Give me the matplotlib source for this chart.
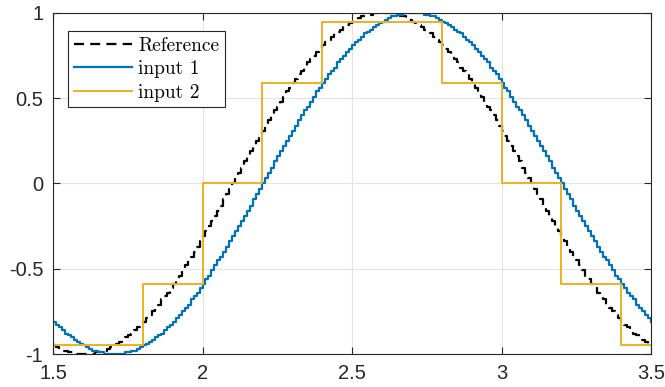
import matplotlib
matplotlib.use("Agg")
import matplotlib.pyplot as plt
import numpy as np

# sample times (0.01 s grid)
t = np.round(np.arange(1.5, 3.5001, 0.01), 2)

reference = [
    -.95, -.96, -.97, -.98, -.98, -.99, -.99, -1.0, -1.0, -1.0,
    -1.0, -1.0, -1.0, -1.0, -.99, -.99, -.98, -.98, -.97, -.96,
    -.95, -.94, -.93, -.92, -.90, -.89, -.88, -.86, -.84, -.83,
    -.81, -.79, -.77, -.75, -.73, -.71, -.68, -.66, -.64, -.61,
    -.59, -.56, -.54, -.51, -.48, -.45, -.43, -.40, -.37, -.34,
    -.31, -.28, -.25, -.22, -.19, -.16, -.13, -.09, -.06, -.03,
    0.0,
    .03, .06, .09, .13, .16, .19, .22, .25, .28, .31,
    .34, .37, .40, .43, .45, .48, .51, .54, .56, .59,
    .61, .64, .66, .68, .71, .73, .75, .77, .79, .81,
    .83, .84, .86, .88, .89, .90, .92, .93, .94, .95,
    .96, .97, .98, .98, .99, .99, 1.0, 1.0, 1.0, 1.0,
    1.0, 1.0, 1.0, .99, .99, .98, .98, .97, .96, .95,
    .94, .93, .92, .90, .89, .88, .86, .84, .83, .81,
    .79, .77, .75, .73, .71, .68, .66, .64, .61, .59,
    .56, .54, .51, .48, .45, .43, .40, .37, .34, .31,
    .28, .25, .22, .19, .16, .13, .09, .06, .03, 0.0,
    -.03, -.06, -.09, -.13, -.16, -.19, -.22, -.25, -.28, -.31,
    -.34, -.37, -.40, -.43, -.45, -.48, -.51, -.54, -.56, -.59,
    -.61, -.64, -.66, -.68, -.71, -.73, -.75, -.77, -.79, -.81,
    -.83, -.84, -.86, -.88, -.89, -.90, -.92, -.93, -.94, -.95,
]

input1 = [
    -.81, -.83, -.84, -.86, -.88, -.89, -.90, -.92, -.93, -.94,
    -.95, -.96, -.97, -.98, -.98, -.99, -.99, -1.0, -1.0, -1.0,
    -1.0, -1.0, -1.0, -1.0, -.99, -.99, -.98, -.98, -.97, -.96,
    -.95, -.94, -.93, -.92, -.90, -.89, -.88, -.86, -.84, -.83,
    -.81, -.79, -.77, -.75, -.73, -.71, -.68, -.66, -.64, -.61,
    -.59, -.56, -.54, -.51, -.48, -.45, -.43, -.40, -.37, -.34,
    -.31, -.28, -.25, -.22, -.19, -.16, -.13, -.09, -.06, -.03,
    0.0,
    .03, .06, .09, .13, .16, .19, .22, .25, .28, .31,
    .34, .37, .40, .43, .45, .48, .51, .54, .56, .59,
    .61, .64, .66, .68, .71, .73, .75, .77, .79, .81,
    .83, .84, .86, .88, .89, .90, .92, .93, .94, .95,
    .96, .97, .98, .98, .99, .99, 1.0, 1.0, 1.0, 1.0,
    1.0, 1.0, 1.0, .99, .99, .98, .98, .97, .96, .95,
    .94, .93, .92, .90, .89, .88, .86, .84, .83, .81,
    .79, .77, .75, .73, .71, .68, .66, .64, .61, .59,
    .56, .54, .51, .48, .45, .43, .40, .37, .34, .31,
    .28, .25, .22, .19, .16, .13, .09, .06, .03, 0.0,
    -.03, -.06, -.09, -.13, -.16, -.19, -.22, -.25, -.28, -.31,
    -.34, -.37, -.40, -.43, -.45, -.48, -.51, -.54, -.56, -.59,
    -.61, -.64, -.66, -.68, -.71, -.73, -.75, -.77, -.79, -.81,
]

# sample-and-hold input (0.2 s hold)
t2 = [1.5, 1.6, 1.8, 2.0, 2.2, 2.4, 2.6, 2.8, 3.0, 3.2, 3.4, 3.5]
input2 = [-.95, -.95, -.59, 0.0, .59, .95, .95, .59, 0.0, -.59, -.95, -.95]

xticks = [1.5, 2, 2.5, 3, 3.5]
xticklabels = ["1.5", "2", "2.5", "3", "3.5"]
yticks = [-1, -0.5, 0, 0.5, 1]
yticklabels = ["-1", "-0.5", "0", "0.5", "1"]

plt.rcParams["font.family"] = ["Liberation Sans", "DejaVu Sans"]

fig = plt.figure(figsize=(6.65, 3.87), dpi=100)
ax = fig.add_axes([53 / 665, 33 / 387, 598 / 665, 341 / 387])

ax.plot(t, reference, color="black", lw=1.6, ls=(0, (4.5, 2.8)),
        drawstyle="steps-post", label="Reference")
ax.plot(t, input1, color="#0072BD", lw=1.6, drawstyle="steps-post",
        label="input 1")
ax.plot(t2, input2, color="#EDB120", lw=1.4, drawstyle="steps-post",
        label="input 2")

ax.set_xlim(1.5, 3.5)
ax.set_ylim(-1, 1)
ax.set_xticks(xticks)
ax.set_xticklabels(xticklabels)
ax.set_yticks(yticks)
ax.set_yticklabels(yticklabels)
ax.grid(True, color="#e3e3e3", lw=0.8)
ax.set_axisbelow(True)

for s in ax.spines.values():
    s.set_color("#262626")
    s.set_linewidth(0.8)
ax.tick_params(direction="in", length=5, width=0.8, colors="#262626",
               labelsize=14.5, top=True, right=True, pad=7)

leg = ax.legend(loc="upper left", bbox_to_anchor=(15 / 598, 1 - 18 / 341),
                prop={"family": "cmr10", "size": 14}, fancybox=False,
                edgecolor="#262626", framealpha=1, borderaxespad=0,
                handlelength=3.0, handletextpad=0.3, labelspacing=0.28,
                borderpad=0.3)
leg.get_frame().set_linewidth(0.8)

fig.savefig("out.png", dpi=100)
